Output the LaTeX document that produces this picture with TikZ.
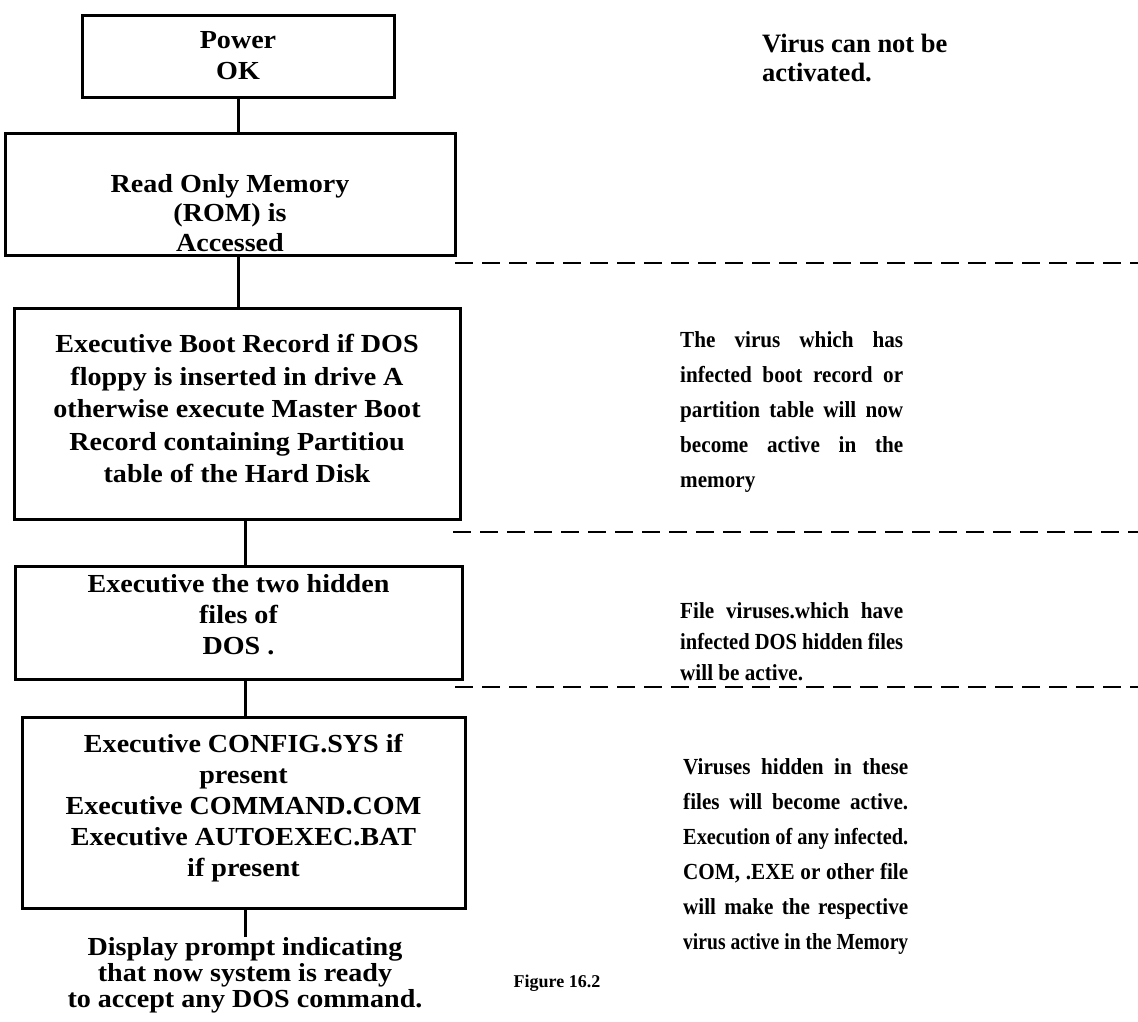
\documentclass[tikz,border=0pt]{standalone}
\usepackage{fontspec}
\usepackage{graphicx}
\setmainfont{Liberation Serif}
\newfontfamily\boxfam{Liberation Serif}[FakeStretch=1.08]
\newfontfamily\sidefam{Liberation Serif}[FakeStretch=0.92]
\usetikzlibrary{calc}
\newsavebox\jlbox
\newcommand{\jl}[2][223pt]{\sbox\jlbox{#2}\ifdim\wd\jlbox>#1\relax\resizebox{#1}{\height}{\usebox\jlbox}\else\makebox[#1][s]{#2}\fi}
\begin{document}
\begin{tikzpicture}[x=1pt,y=-1pt,
  box/.style={draw, line width=3pt, inner sep=0pt},
  boxtxt/.style={inner sep=0pt, align=center, anchor=north, font=\boxfam\bfseries\fontsize{26}{31}\selectfont},
  link/.style={line width=3pt},
  sepline/.style={line width=2.6pt, dash pattern=on 18pt off 9pt},
  side/.style={inner sep=0pt, anchor=north west, align=left, font=\sidefam\bfseries\fontsize{23}{35}\selectfont},
]
\useasboundingbox (0,0) rectangle (1138,1021);
\fill[white] (0,0) rectangle (1138,1021);

% boxes
\node[box, minimum width=312pt, minimum height=82pt] (b1) at (238,56) {};
\node[box, minimum width=450pt, minimum height=122pt] (b2) at (230,194) {};
\node[box, minimum width=446pt, minimum height=211pt] (b3) at (237,413.5) {};
\node[box, minimum width=447pt, minimum height=113pt] (b4) at (238.5,622.5) {};
\node[box, minimum width=443pt, minimum height=191pt] (b5) at (243.5,812.5) {};

% box texts
\node[boxtxt] (t1) at (238,31) {Power\\OK};
\node[boxtxt, font=\boxfam\bfseries\fontsize{26}{29.5}\selectfont] (t2) at (230,174) {Read Only Memory\\(ROM) is\\Accessed};
\node[boxtxt, font=\boxfam\bfseries\fontsize{26}{32.5}\selectfont] (t3) at (237,334) {Executive Boot Record if DOS\\floppy is inserted in drive A\\otherwise execute Master Boot\\Record containing Partitiou\\table of the Hard Disk};
\node[boxtxt, font=\boxfam\bfseries\fontsize{26}{31}\selectfont] (t4) at (238.5,574) {Executive the two hidden\\files of\\DOS .};
\node[boxtxt] (t5) at (243.5,734) {Executive CONFIG.SYS if\\present\\Executive COMMAND.COM\\Executive AUTOEXEC.BAT\\if present};
\node[boxtxt, font=\boxfam\bfseries\fontsize{26}{26}\selectfont] (prompt) at (245,937) {Display prompt indicating\\that now system is ready\\to accept any DOS command.};

% connectors
\coordinate (cx) at (245,0);
\draw[link] (b1.south) -- (b1.south |- b2.north);
\draw[link] (b2.south -| b1.south) -- (b3.north -| b1.south);
\draw[link] (b3.south -| cx) -- (b4.north -| cx);
\draw[link] (b4.south -| cx) -- (b5.north -| cx);
\draw[link] (b5.south -| cx) -- (prompt.north -| cx);

% dashed separators
\coordinate (d1a) at (455,263);  \coordinate (d1b) at (1138,263);
\coordinate (d2a) at (453,532);  \coordinate (d2b) at (1138,532);
\coordinate (d3a) at (455,687);  \coordinate (d3b) at (1138,687);
\draw[sepline] (d1a) -- (d1b);
\draw[sepline] (d2a) -- (d2b);
\draw[sepline] (d3a) -- (d3b);

% side notes
\node[inner sep=0pt, anchor=north west, align=left, font=\bfseries\fontsize{26.5}{29}\selectfont] (r0) at (762,34) {Virus can not be\\activated.};
\node[side] (r1) at (680,331) {\jl{The virus which has}\\\jl{infected boot record or}\\\jl{partition table will now}\\\jl{become active in the}\\memory};
\node[side, font=\sidefam\bfseries\fontsize{23}{31}\selectfont] (r2) at (680,602) {\jl{File viruses.which have}\\\jl{infected DOS hidden files}\\will be active.};
\node[side] (r3) at (683,758) {\jl[225pt]{Viruses hidden in these}\\\jl[225pt]{files will become active.}\\\jl[225pt]{Execution of any infected.}\\\jl[225pt]{COM, .EXE or other file}\\\jl[225pt]{will make the respective}\\\jl[225pt]{virus active in the Memory}};

\node[inner sep=0pt, font=\bfseries\fontsize{18}{20}\selectfont] (fig) at (557,983) {Figure 16.2};
\end{tikzpicture}
\end{document}
